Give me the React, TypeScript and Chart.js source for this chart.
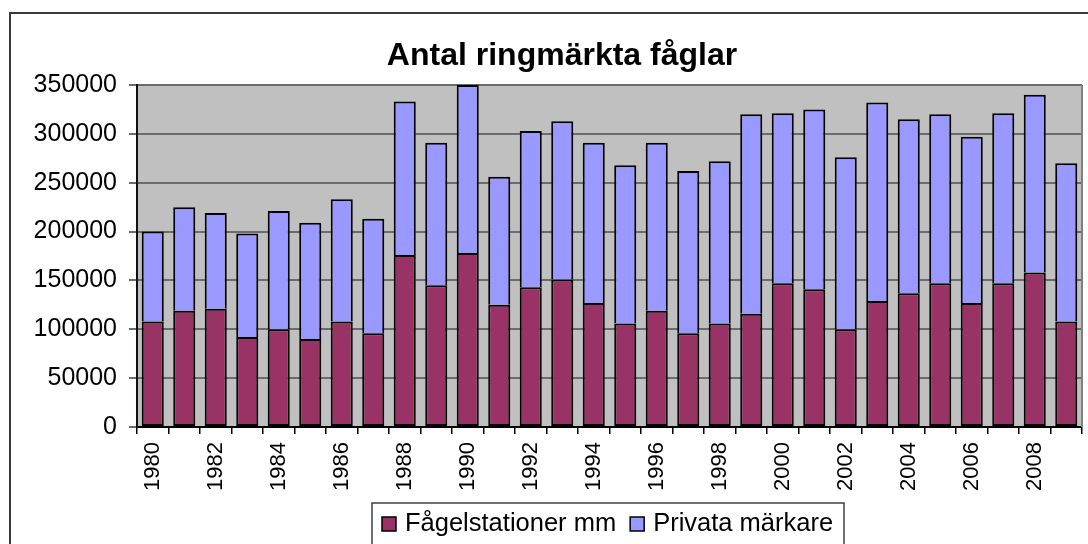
import React, { useEffect, useRef } from "react";
import { Chart, registerables } from "chart.js";

Chart.register(...registerables);

const TITLE = "Antal ringmärkta fåglar";
const YEARS = [
  "1980", "1981", "1982", "1983", "1984", "1985", "1986", "1987", "1988", "1989",
  "1990", "1991", "1992", "1993", "1994", "1995", "1996", "1997", "1998", "1999",
  "2000", "2001", "2002", "2003", "2004", "2005", "2006", "2007", "2008", "2009",
];
const SERIES_NAMES = ["Fågelstationer mm", "Privata märkare"];
const FAGELSTATIONER = [
  108000, 119000, 121000, 92000, 100000, 90000, 108000, 96000, 176000, 145000,
  178000, 125000, 143000, 151000, 127000, 106000, 119000, 96000, 106000, 116000,
  147000, 141000, 100000, 129000, 137000, 147000, 127000, 147000, 158000, 108000,
];
const PRIVATA = [
  92000, 106000, 98000, 106000, 121000, 119000, 125000, 117000, 157000, 146000,
  172000, 131000, 160000, 162000, 164000, 162000, 172000, 166000, 166000, 204000,
  174000, 184000, 176000, 203000, 178000, 173000, 170000, 174000, 182000, 162000,
];
const Y_MIN = 0;
const Y_MAX = 350000;
const Y_STEP = 50000;

const COLORS = ["#993366", "#9999FF"];
const FONT = "'Liberation Sans', Arial, sans-serif";

const decorPlugin = {
  id: "decor",
  beforeDraw(chart: any) {
    const { ctx, chartArea } = chart;
    ctx.save();
    ctx.fillStyle = "#ffffff";
    ctx.fillRect(0, 0, chart.width, chart.height);
    ctx.fillStyle = "#C0C0C0";
    ctx.fillRect(chartArea.left, chartArea.top, chartArea.right - chartArea.left, chartArea.bottom - chartArea.top);
    ctx.restore();
  },
  afterDraw(chart: any) {
    const { ctx, chartArea } = chart;
    ctx.save();
    // plot area right border
    ctx.strokeStyle = "#808080";
    ctx.lineWidth = 2;
    ctx.beginPath();
    ctx.moveTo(chartArea.right, chartArea.top);
    ctx.lineTo(chartArea.right, chartArea.bottom);
    ctx.stroke();
    // outer border
    ctx.strokeStyle = "#3a3a3a";
    ctx.lineWidth = 2;
    ctx.strokeRect(10, 13, 1200, 700);
    // title
    ctx.fillStyle = "#000";
    ctx.font = `bold 32px ${FONT}`;
    ctx.textAlign = "center";
    ctx.textBaseline = "alphabetic";
    ctx.fillText(TITLE, 562, 65);
    // legend
    ctx.strokeStyle = "#404040";
    ctx.lineWidth = 1.5;
    ctx.strokeRect(372, 503, 472, 80);
    ctx.font = `25.5px ${FONT}`;
    ctx.textAlign = "left";
    ctx.textBaseline = "middle";
    const items = chart.data.datasets;
    let x = 382;
    const cy = 524;
    items.forEach((ds: any) => {
      ctx.fillStyle = ds.backgroundColor;
      ctx.fillRect(x, cy - 7, 14, 14);
      ctx.strokeStyle = "#000";
      ctx.lineWidth = 1.5;
      ctx.strokeRect(x, cy - 7, 14, 14);
      ctx.fillStyle = "#000";
      ctx.fillText(ds.label, x + 23, cy);
      x += 23 + ctx.measureText(ds.label).width + 14;
    });
    ctx.restore();
  },
};

export default function App() {
  const ref = useRef<HTMLCanvasElement | null>(null);
  useEffect(() => {
    if (!ref.current) return;
    const chart = new Chart(ref.current, {
      type: "bar",
      data: {
        labels: YEARS,
        datasets: [
          {
            label: SERIES_NAMES[0],
            data: FAGELSTATIONER,
            backgroundColor: COLORS[0],
            borderColor: "#000",
            borderWidth: 2,
            borderSkipped: false,
            barPercentage: 0.7,
            categoryPercentage: 1.0,
          },
          {
            label: SERIES_NAMES[1],
            data: PRIVATA,
            backgroundColor: COLORS[1],
            borderColor: "#000",
            borderWidth: 2,
            borderSkipped: "bottom",
            barPercentage: 0.7,
            categoryPercentage: 1.0,
          },
        ],
      },
      options: {
        responsive: false,
        animation: false,
        devicePixelRatio: 1,
        layout: { padding: { top: 85, right: 6, left: 0, bottom: 0 } },
        plugins: {
          legend: { display: false },
          title: { display: false },
          tooltip: { enabled: false },
        },
        scales: {
          x: {
            stacked: true,
            afterFit: (scale: any) => {
              scale.height = 544 - 427;
              scale.paddingRight = 0;
              scale.paddingLeft = 0;
            },
            grid: {
              drawOnChartArea: false,
              drawTicks: true,
              tickLength: 7,
              color: "#000",
              lineWidth: 1.5,
              offset: true,
            },
            border: { display: true, color: "#000", width: 2 },
            ticks: {
              autoSkip: false,
              minRotation: 90,
              maxRotation: 90,
              padding: 8,
              color: "#000",
              font: { family: FONT, size: 22 },
              callback: (_v: any, i: number) => (i % 2 === 0 ? YEARS[i] : ""),
            },
          },
          y: {
            stacked: true,
            min: Y_MIN,
            max: Y_MAX,
            afterFit: (scale: any) => {
              scale.width = 137;
              scale.paddingTop = 0;
              scale.paddingBottom = 0;
            },
            grid: {
              color: "#6b6b6b",
              lineWidth: 2,
              tickLength: 8,
            },
            border: { display: true, color: "#111", width: 2 },
            ticks: {
              stepSize: Y_STEP,
              padding: 12,
              color: "#000",
              font: { family: FONT, size: 25 },
              callback: (v: any) => String(v),
            },
          },
        },
      },
      plugins: [decorPlugin],
    });
    return () => chart.destroy();
  }, []);
  return (
    <div style={{ position: "absolute", left: 0, top: 0, width: 1088, height: 544, overflow: "hidden" }}>
      <canvas ref={ref} width={1088} height={544} style={{ display: "block" }} />
    </div>
  );
}
